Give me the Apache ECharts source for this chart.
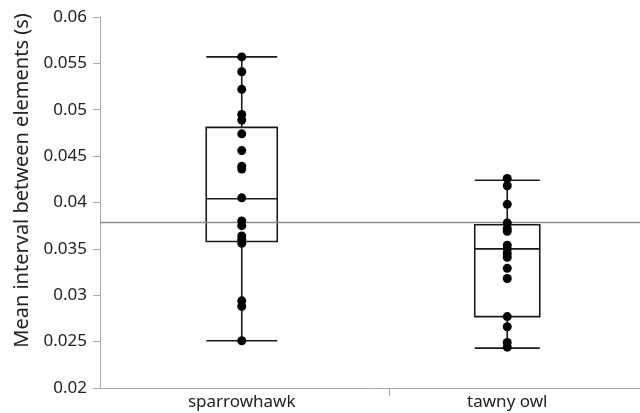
<!DOCTYPE html>
<html>
<head>
<meta charset="utf-8">
<script src="https://cdn.jsdelivr.net/npm/echarts@6/dist/echarts.min.js"></script>
<style>
html,body{margin:0;padding:0;background:#fff;}
#chart{width:640px;height:413px;}
</style>
</head>
<body>
<div id="chart"></div>
<script>
const categories = ['sparrowhawk', 'tawny owl'];
const yMin = 0.02;
const yMax = 0.06;
const yStep = 0.005;
const yName = 'Mean interval between elements (s)';
// [min, Q1, median, Q3, max]
const sparrowhawkBox = [0.0251, 0.0358, 0.0404, 0.0481, 0.0557];
const tawnyOwlBox = [0.0243, 0.0277, 0.0350, 0.0376, 0.0424];
const sparrowhawkPoints = [0.0557, 0.0541, 0.0522, 0.0495, 0.0489, 0.0474, 0.0456, 0.0439, 0.0436, 0.0405, 0.0380, 0.0375, 0.0364, 0.0360, 0.0356, 0.0294, 0.0288, 0.0251];
const tawnyOwlPoints = [0.0426, 0.0418, 0.0398, 0.0378, 0.0372, 0.0369, 0.0354, 0.0350, 0.0345, 0.0341, 0.0329, 0.0318, 0.0277, 0.0266, 0.0249, 0.0244];
const grandMean = 0.0379;

const font = 'Noto Sans';
const chart = echarts.init(document.getElementById('chart'));
const pts = [];
sparrowhawkPoints.forEach(v => pts.push([categories[0], v]));
tawnyOwlPoints.forEach(v => pts.push([categories[1], v]));

chart.setOption({
  animation: false,
  textStyle: {fontFamily: font},
  grid: [
    {left: 100, right: 0, top: 17, bottom: 25},
    {left: 109, right: -15, top: 17, bottom: 25}
  ],
  xAxis: [
    {gridIndex: 0, type: 'value', min: 0, max: 540,
      axisLine: {show: true, onZero: false, lineStyle: {color: '#a8a8a8', width: 1}},
      axisTick: {show: true, customValues: [289], length: 8, lineStyle: {color: '#a8a8a8'}},
      axisLabel: {show: false}, splitLine: {show: false}},
    {gridIndex: 1, type: 'category', data: categories,
      axisLine: {show: false}, axisTick: {show: false},
      axisLabel: {color: '#222', fontSize: 17, margin: 6, fontFamily: font},
      splitLine: {show: false}},
    {gridIndex: 1, type: 'category', data: categories, show: false}
  ],
  yAxis: [
    {gridIndex: 0, type: 'value', min: yMin, max: yMax, interval: yStep,
      name: yName, nameLocation: 'middle', nameGap: 62, nameRotate: 90,
      nameTextStyle: {color: '#222', fontSize: 20, fontFamily: font, padding: [0, 0, 0, 44]},
      axisLine: {show: true, lineStyle: {color: '#a8a8a8', width: 1}},
      axisTick: {show: true, length: 7, lineStyle: {color: '#a8a8a8'}},
      axisLabel: {color: '#222', fontSize: 17, margin: 13, fontFamily: font},
      splitLine: {show: false}},
    {gridIndex: 1, type: 'value', min: yMin, max: yMax, show: false}
  ],
  series: [
    {type: 'line', xAxisIndex: 0, yAxisIndex: 0, data: [], silent: true,
      markLine: {symbol: 'none', silent: true, precision: 6, label: {show: false},
        lineStyle: {color: '#8a8a8a', width: 1.3, type: 'solid'},
        data: [{yAxis: grandMean}]}},
    {type: 'boxplot', xAxisIndex: 1, yAxisIndex: 1, boxWidth: [71, 71],
      itemStyle: {color: 'rgba(0,0,0,0)', borderColor: '#1a1a1a', borderWidth: 1.6},
      data: [sparrowhawkBox, '-']},
    {type: 'boxplot', xAxisIndex: 2, yAxisIndex: 1, boxWidth: [65, 65],
      itemStyle: {color: 'rgba(0,0,0,0)', borderColor: '#1a1a1a', borderWidth: 1.6},
      data: ['-', tawnyOwlBox]},
    {type: 'scatter', xAxisIndex: 1, yAxisIndex: 1, symbolSize: 9, z: 5,
      itemStyle: {color: '#000', opacity: 1}, data: pts}
  ]
});
</script>
</body>
</html>
